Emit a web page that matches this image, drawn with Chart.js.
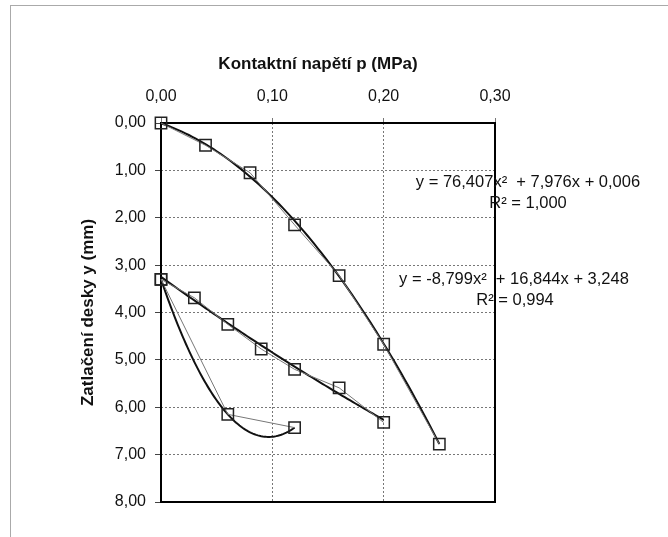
<!DOCTYPE html>
<html>
<head>
<meta charset="utf-8">
<script src="https://cdn.jsdelivr.net/npm/chart.js@4"></script>
<style>
  html, body { margin: 0; padding: 0; background: #fff; }
  #ramec { position: absolute; left: 10px; top: 5px; right: 0; bottom: 0; border-left: 1px solid #aaa; border-top: 1px solid #aaa; }
  #graf { position: absolute; left: 0; top: 0; }
</style>
</head>
<body>
<div id="ramec"></div>
<canvas id="graf" width="668" height="537"></canvas>
<script>
// ===============================
// Data
// ===============================
const zatizeniP = [0, 0.04, 0.08, 0.12, 0.16, 0.20, 0.25];
const zatizeniY = [0, 0.47, 1.05, 2.15, 3.22, 4.67, 6.78];

const odlehceniP = [0, 0.03, 0.06, 0.09, 0.12, 0.16, 0.20];
const odlehceniY = [3.30, 3.69, 4.25, 4.77, 5.20, 5.59, 6.32];

const cyklusP = [0, 0.06, 0.12];
const cyklusY = [3.30, 6.15, 6.43];

// koeficienty trendů (a, b, c) z popisků grafu
const trendZatizeni = [76.407, 7.976, 0.006];
const trendOdlehceni = [-8.799, 16.844, 3.248];

const osaXTicks = [0, 0.1, 0.2, 0.3];
const osaYTicks = [0, 1, 2, 3, 4, 5, 6, 7, 8];

const nadpisX = 'Kontaktní napětí p (MPa)';
const nadpisY = 'Zatlačení desky y (mm)';
const rovnice = [
  'y = 76,407x²  + 7,976x + 0,006', 'R² = 1,000',
  'y = -8,799x²  + 16,844x + 3,248', 'R² = 0,994'
];

const FONT = '"Liberation Sans", Arial, sans-serif';

// ===============================
// Pomocné funkce
// ===============================
function body(px, py) {
  return px.map((p, i) => ({ x: p, y: py[i] }));
}

function carka(v) {
  return Number(v).toFixed(2).replace('.', ',');
}

// kvadratický trend metodou nejmenších čtverců (jako v Excelu)
function fitKvadrat(px, py) {
  const n = px.length;
  let s = [0, 0, 0, 0, 0], t = [0, 0, 0];
  for (let i = 0; i < n; i++) {
    let xp = 1;
    for (let k = 0; k < 5; k++) { s[k] += xp; if (k < 3) t[k] += xp * py[i]; xp *= px[i]; }
  }
  // matice [c, b, a]
  const M = [[s[0], s[1], s[2], t[0]], [s[1], s[2], s[3], t[1]], [s[2], s[3], s[4], t[2]]];
  for (let i = 0; i < 3; i++) {
    for (let j = i + 1; j < 3; j++) {
      const f = M[j][i] / M[i][i];
      for (let k = i; k < 4; k++) M[j][k] -= f * M[i][k];
    }
  }
  const r = [0, 0, 0];
  for (let i = 2; i >= 0; i--) {
    let v = M[i][3];
    for (let k = i + 1; k < 3; k++) v -= M[i][k] * r[k];
    r[i] = v / M[i][i];
  }
  return [r[2], r[1], r[0]];
}

const trendy = [
  { k: trendZatizeni, od: 0, do: Math.max(...zatizeniP) },
  { k: trendOdlehceni, od: 0, do: Math.max(...odlehceniP) },
  { k: fitKvadrat(cyklusP, cyklusY), od: 0, do: Math.max(...cyklusP) }
];

// ===============================
// Plugin: rámeček, trendy, popisky
// ===============================
const doplnky = {
  id: 'doplnky',
  beforeDatasetsDraw(chart) {
    const { ctx, chartArea: a, scales: { x, y } } = chart;
    ctx.save();
    ctx.lineWidth = 2;
    ctx.strokeStyle = '#000';
    ctx.strokeRect(a.left, a.top, a.right - a.left, a.bottom - a.top);
    ctx.strokeStyle = '#111';
    trendy.forEach(t => {
      ctx.beginPath();
      for (let i = 0; i <= 80; i++) {
        const p = t.od + (t.do - t.od) * i / 80;
        const v = t.k[0] * p * p + t.k[1] * p + t.k[2];
        const px = x.getPixelForValue(p), py = y.getPixelForValue(v);
        if (i) ctx.lineTo(px, py); else ctx.moveTo(px, py);
      }
      ctx.stroke();
    });
    ctx.restore();
  },
  afterDraw(chart) {
    const { ctx } = chart;
    ctx.save();
    ctx.fillStyle = '#111';
    ctx.textAlign = 'center';
    ctx.textBaseline = 'middle';
    ctx.font = 'bold 17px ' + FONT;
    ctx.fillText(nadpisX, 318, 64);
    ctx.font = '16.5px ' + FONT;
    ctx.fillText(rovnice[0], 528, 182);
    ctx.fillText(rovnice[1], 528, 203);
    ctx.fillText(rovnice[2], 514, 279);
    ctx.fillText(rovnice[3], 515, 300);
    ctx.restore();
  }
};

// ===============================
// Graf
// ===============================
const radaStyl = {
  showLine: true,
  clip: false,
  borderColor: '#777',
  borderWidth: 1,
  pointStyle: 'rect',
  pointRadius: 8,
  pointHoverRadius: 8,
  pointBorderColor: '#222',
  pointBorderWidth: 1.5,
  pointBackgroundColor: 'rgba(0,0,0,0)',
  fill: false
};

new Chart(document.getElementById('graf'), {
  type: 'scatter',
  data: {
    datasets: [
      Object.assign({ label: 'zatížení', data: body(zatizeniP, zatizeniY) }, radaStyl),
      Object.assign({ label: 'odlehčení', data: body(odlehceniP, odlehceniY) }, radaStyl),
      Object.assign({ label: 'cyklus', data: body(cyklusP, cyklusY) }, radaStyl)
    ]
  },
  options: {
    responsive: false,
    animation: false,
    layout: { padding: { left: 76, top: 50, right: 173, bottom: 35 } },
    plugins: { legend: { display: false }, tooltip: { enabled: false } },
    scales: {
      x: {
        type: 'linear',
        position: 'top',
        min: 0,
        max: 0.3,
        afterFit(s) { s.height = 73; },
        afterBuildTicks(s) { s.ticks = osaXTicks.map(v => ({ value: v })); },
        ticks: {
          callback: v => carka(v),
          color: '#111',
          font: { family: FONT, size: 16 },
          padding: 12,
          maxRotation: 0
        },
        grid: { color: '#777', lineWidth: 1, tickLength: 5, tickColor: '#777' },
        border: { display: false, dash: [2, 2] }
      },
      y: {
        type: 'linear',
        reverse: true,
        min: 0,
        max: 8,
        afterFit(s) { s.width = 85; },
        afterBuildTicks(s) { s.ticks = osaYTicks.map(v => ({ value: v })); },
        title: {
          display: true,
          text: nadpisY,
          color: '#111',
          font: { family: FONT, size: 17, weight: 'bold' },
          padding: 2
        },
        ticks: {
          callback: v => carka(v),
          color: '#111',
          font: { family: FONT, size: 16 },
          padding: 9
        },
        grid: { color: '#777', lineWidth: 1, tickLength: 6, tickColor: '#444' },
        border: { display: false, dash: [2, 2] }
      }
    }
  },
  plugins: [doplnky]
});
</script>
</body>
</html>
